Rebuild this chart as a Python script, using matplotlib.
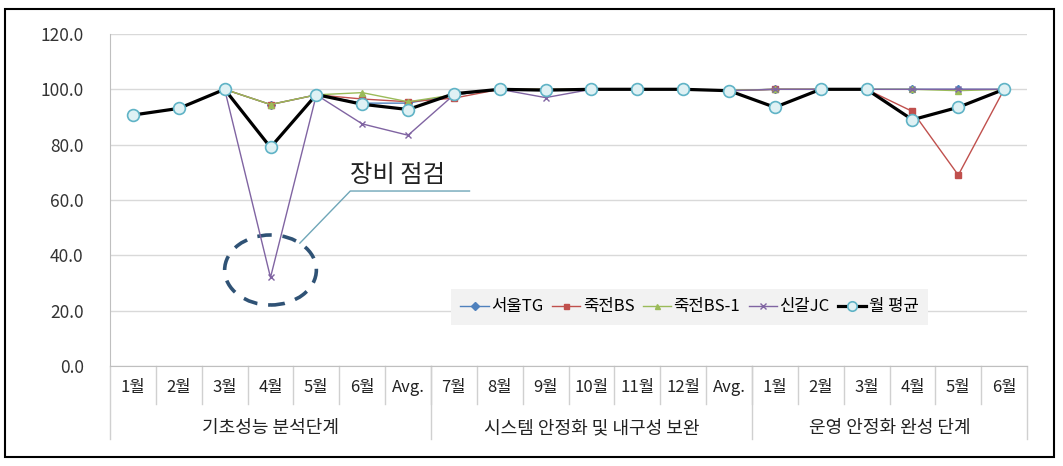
import matplotlib.pyplot as plt
import numpy as np
from matplotlib.patches import Ellipse, Rectangle

plt.rcParams['font.family'] = ['Noto Sans CJK KR', 'DejaVu Sans']

months = ['1월', '2월', '3월', '4월', '5월', '6월', 'Avg.',
          '7월', '8월', '9월', '10월', '11월', '12월', 'Avg.',
          '1월', '2월', '3월', '4월', '5월', '6월']
phases = ['기초성능 분석단계', '시스템 안정화 및 내구성 보완', '운영 안정화 완성 단계']
phase_sizes = [7, 7, 6]

nan = np.nan
seoul_tg = [nan, nan, 100, 94.5, 98, 95.0, 95.0,
            98, 100, 100, 100, 100, 100, 99.6,
            100, 100, 100, 100, 100, 100]
jukjeon_bs = [nan, nan, 100, 94.5, 98, 96.5, 95.5,
              96.8, 100, 100, 100, 100, 100, 99.5,
              100, 100, 100, 92.0, 69.0, 100]
jukjeon_bs1 = [nan, nan, 100, 94.5, 98, 98.8, 95.5,
               98, 100, 100, 100, 100, 100, 99.6,
               100, 100, 100, 100, 99.5, 100]
singal_jc = [nan, nan, 100, 32.0, 98, 87.5, 83.4,
             98, 100, 97.0, 100, 100, 100, 99.5,
             100, 100, 100, 100, 100, 100]
month_avg = [90.7, 93.1, 100, 79.0, 98.1, 94.6, 92.7,
             98.4, 100, 99.7, 100, 100, 100, 99.5,
             93.5, 100, 100, 89.0, 93.5, 100]

x = np.arange(len(months))

fig = plt.figure(figsize=(10.63, 4.66), dpi=100)
ax = fig.add_axes([0.1035, 0.2146, 0.8627, 0.7125])

ax.plot(x, seoul_tg, color='#4F81BD', lw=1.0, marker='D', ms=4.5, label='서울TG')
ax.plot(x, jukjeon_bs, color='#C0504D', lw=1.0, marker='s', ms=4.5, label='죽전BS')
ax.plot(x, jukjeon_bs1, color='#9BBB59', lw=1.0, marker='^', ms=4.5, label='죽전BS-1')
ax.plot(x, singal_jc, color='#8064A2', lw=1.0, marker='x', ms=5, label='신갈JC')
ax.plot(x, month_avg, color='black', lw=2.3, marker='o', ms=8.5,
        markerfacecolor='#DFF1F4', markeredgecolor='#5FB3C6', markeredgewidth=1.2,
        label='월 평균')

ax.set_xlim(-0.5, len(months) - 0.5)
ax.set_ylim(0, 120)
ax.set_yticks(np.arange(0, 121, 20))
ax.set_yticklabels([f'{v:.1f}' for v in np.arange(0, 121, 20)], fontsize=12.5, color='#333333')
ax.tick_params(axis='y', length=0, pad=19)
ax.set_xticks([])
ax.grid(axis='y', color='#D9D9D9', lw=1.0)
ax.set_axisbelow(True)
for s in ['top', 'right']:
    ax.spines[s].set_visible(False)
ax.spines['left'].set_color('#BFBFBF')
ax.spines['bottom'].set_color('#BFBFBF')

# multi-level category axis
tr = ax.get_xaxis_transform()
for i, m in enumerate(months):
    ax.text(i, -0.066, m, transform=tr, ha='center', va='center', fontsize=12,
            color='#222222')
for b in np.arange(0.5, len(months) - 1):
    ax.plot([b, b], [0, -0.115], transform=tr, color='#D0D0D0', lw=1, clip_on=False)
start = 0
edges = [-0.5]
for name, n in zip(phases, phase_sizes):
    ax.text(start + (n - 1) / 2, -0.187, name, transform=tr, ha='center', va='center',
            fontsize=13, color='#222222')
    start += n
    edges.append(start - 0.5)
for e in edges:
    ax.plot([e, e], [0, -0.22], transform=tr, color='#D0D0D0', lw=1, clip_on=False)

# annotation
ax.add_patch(Ellipse((3, 34.7), 2.0, 25.3, fill=False, edgecolor='#2F5275',
                     lw=2.6, linestyle=(0, (4, 3))))
ax.text(0.262, 0.575, '장비 점검', transform=ax.transAxes, fontsize=17.5,
        ha='left', va='center', color='#222222')
ax.plot([0.207, 0.262, 0.392], [0.370, 0.527, 0.527], transform=ax.transAxes,
        color='#6FA6B8', lw=1.0)

leg = ax.legend(loc='center', bbox_to_anchor=(0.632, 0.178), ncol=5, fontsize=12,
                frameon=True, fancybox=False, handlelength=1.7, handletextpad=0.15,
                columnspacing=0.5, borderpad=0.55, markerscale=0.8)
leg.get_frame().set_facecolor('#F2F2F2')
leg.get_frame().set_edgecolor('none')
leg.get_frame().set_alpha(1)

fig.patches.append(Rectangle((5 / 1063, 9 / 466), 1049 / 1063, 448 / 466,
                             transform=fig.transFigure, fill=False,
                             edgecolor='black', lw=1.5))

fig.savefig('out.png', dpi=100)
